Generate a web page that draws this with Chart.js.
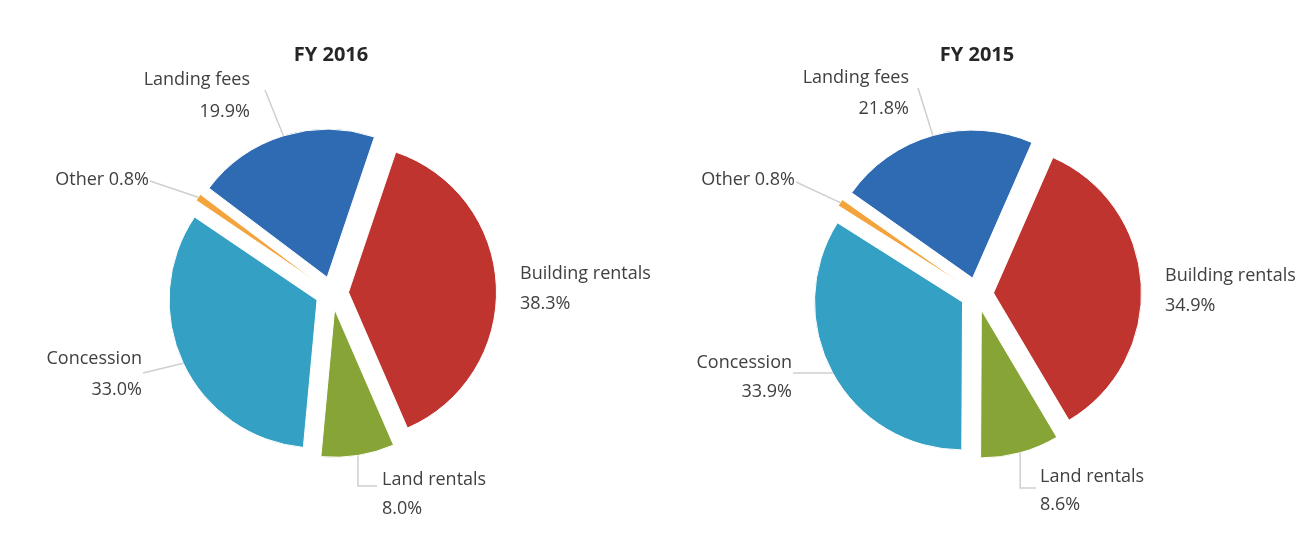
<!DOCTYPE html>
<html><head><meta charset="utf-8">
<script src="https://cdn.jsdelivr.net/npm/chart.js@4.4.0/dist/chart.umd.min.js"></script>
<style>
html,body{margin:0;padding:0;background:#fff;}
#wrap{position:relative;width:1297px;height:543px;overflow:hidden;background:#fff;}
.c{position:absolute;top:0;}
</style></head><body>
<div id="wrap">
<canvas id="c1" class="c" style="left:0" width="700" height="543"></canvas>
<canvas id="c2" class="c" style="left:648px" width="649" height="543"></canvas>
</div>
<script>
// ---- data ----
const categories = ['Landing fees', 'Building rentals', 'Land rentals', 'Concession', 'Other'];
const fy2016 = [19.9, 38.3, 8.0, 33.0, 0.8];
const fy2015 = [21.8, 34.9, 8.6, 33.9, 0.8];
const chartTitles = ['FY 2016', 'FY 2015'];
const sliceColors = ['#2E6BB3', '#C0342F', '#86A536', '#34A0C3', '#F3A43C'];

// ---- layout (style only) ----
const LABEL_FONT = '18px "Open Sans"';
const TITLE_FONT = 'bold 20px "Open Sans"';
const layouts = [
  { // FY 2016, canvas-local coords
    title: {x: 331, y: 55},
    labels: [
      {align: 'right', x: 250, ys: [80, 112], from: [265, 90]},
      {align: 'left', x: 520, ys: [274, 304]},
      {align: 'left', x: 382, ys: [480, 509], elbow: {x: 377, y: 486}},
      {align: 'right', x: 142, ys: [359, 390], from: [143, 373]},
      {align: 'right', x: 149, ys: [180], single: true, from: [150, 181]}
    ]
  },
  { // FY 2015
    title: {x: 977 - 648, y: 55},
    labels: [
      {align: 'right', x: 909 - 648, ys: [78, 109], from: [918 - 648, 88]},
      {align: 'left', x: 1165 - 648, ys: [276, 306]},
      {align: 'left', x: 1040 - 648, ys: [477, 505], elbow: {x: 1036 - 648, y: 488}},
      {align: 'right', x: 792 - 648, ys: [363, 392], from: [793 - 648, 373]},
      {align: 'right', x: 795 - 648, ys: [180], single: true, from: [796 - 648, 182]}
    ]
  }
];

const explodePlugin = {
  id: 'explode',
  beforeDatasetDraw(chart, args, opts) {
    const ctx = chart.ctx;
    args.meta.data.forEach(arc => {
      const mid = (arc.startAngle + arc.endAngle) / 2;
      ctx.save();
      ctx.translate(Math.cos(mid) * opts.distance, Math.sin(mid) * opts.distance);
      arc.draw(ctx);
      ctx.restore();
    });
    return false;
  }
};

const labelPlugin = {
  id: 'pieLabels',
  afterDraw(chart, args, opts) {
    const ctx = chart.ctx;
    const lay = opts.layout;
    const dist = opts.distance;
    const meta = chart.getDatasetMeta(0);
    const vals = chart.data.datasets[0].data;
    ctx.save();
    ctx.fillStyle = '#262626';
    ctx.font = TITLE_FONT;
    ctx.textAlign = 'center';
    ctx.textBaseline = 'middle';
    ctx.fillText(opts.title, lay.title.x, lay.title.y);
    meta.data.forEach((arc, i) => {
      const L = lay.labels[i];
      const mid = (arc.startAngle + arc.endAngle) / 2;
      const r = arc.outerRadius + dist;
      const px = arc.x + Math.cos(mid) * r;
      const py = arc.y + Math.sin(mid) * r;
      ctx.strokeStyle = '#cfcfcf';
      ctx.lineWidth = 1.5;
      if (L.from) {
        ctx.beginPath();
        ctx.moveTo(L.from[0], L.from[1]);
        ctx.lineTo(px, py);
        ctx.stroke();
      } else if (L.elbow) {
        ctx.beginPath();
        ctx.moveTo(L.elbow.x, L.elbow.y);
        ctx.lineTo(px, L.elbow.y);
        ctx.lineTo(px, py);
        ctx.stroke();
      }
      ctx.fillStyle = '#404040';
      ctx.font = LABEL_FONT;
      ctx.textAlign = L.align;
      ctx.textBaseline = 'middle';
      const pct = vals[i].toFixed(1) + '%';
      if (L.single) {
        ctx.fillText(chart.data.labels[i] + ' ' + pct, L.x, L.ys[0]);
      } else {
        ctx.fillText(chart.data.labels[i], L.x, L.ys[0]);
        ctx.fillText(pct, L.x, L.ys[1]);
      }
    });
    ctx.restore();
  }
};

function makeChart(id, values, idx, padding) {
  return new Chart(document.getElementById(id), {
    type: 'pie',
    data: {
      labels: categories,
      datasets: [{
        data: values,
        backgroundColor: sliceColors,
        borderColor: '#ffffff',
        borderWidth: 1,
        offset: 0
      }]
    },
    options: {
      responsive: false,
      animation: false,
      radius: 148,
      rotation: idx === 0 ? -53 : -54.8,
      layout: {padding: padding},
      events: [],
      plugins: {
        legend: {display: false},
        tooltip: {enabled: false},
        title: {display: false},
        explode: {distance: 16.5},
        pieLabels: {layout: layouts[idx], title: chartTitles[idx], distance: 16.5}
      }
    },
    plugins: [explodePlugin, labelPlugin]
  });
}

makeChart('c1', fy2016, 0, {left: 172, right: 208, top: 133, bottom: 90});
makeChart('c2', fy2015, 1, {left: 169, right: 160, top: 134, bottom: 89});
</script>
</body></html>
